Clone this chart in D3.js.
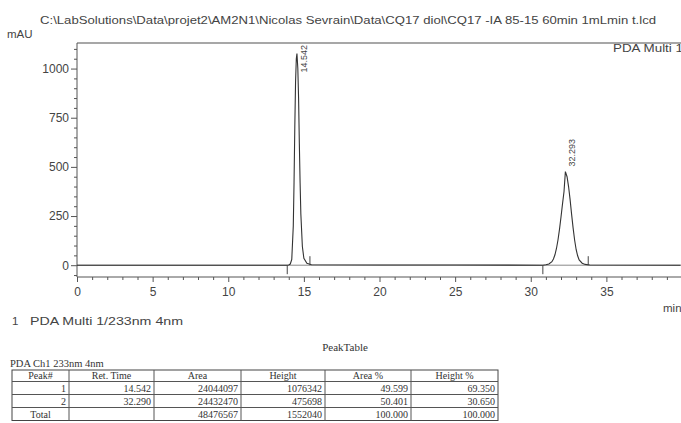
<!DOCTYPE html>
<html><head><meta charset="utf-8">
<script src="https://cdn.jsdelivr.net/npm/d3@7"></script>
<style>
body{margin:0;background:#fff;}
svg{display:block;}
text{font-family:"Liberation Sans",Arial,sans-serif;fill:#444;}
.serif{font-family:"Liberation Serif","Times New Roman",serif;fill:#333;}
</style></head>
<body>
<script>
// ---------- data ----------
const titleText = "C:\\LabSolutions\\Data\\projet2\\AM2N1\\Nicolas Sevrain\\Data\\CQ17 diol\\CQ17 -IA 85-15 60min 1mLmin t.lcd";
const traceTime = [0, 13.9, 14.0, 14.1, 14.2, 14.3, 14.35, 14.4, 14.45, 14.5, 14.542, 14.6, 14.65, 14.7, 14.75, 14.8, 14.9, 15.0, 15.2, 15.5, 20, 25, 30.8,
  31.0, 31.2, 31.4, 31.5, 31.6, 31.7, 31.8, 31.9, 32.0, 32.1, 32.2, 32.29, 32.4, 32.5, 32.6, 32.7, 32.8, 32.9, 33.0, 33.1, 33.2, 33.4, 33.6, 33.9, 39.9];
const traceValue = [0, 0, 1, 6, 30, 200, 420, 700, 930, 1050, 1076, 1000, 850, 620, 420, 260, 95, 35, 10, 2, 1, 1, 0,
  2, 6, 18, 32, 53, 85, 128, 182, 245, 312, 375, 476, 450, 400, 335, 260, 190, 128, 80, 48, 27, 10, 4, 1, 0];
const peakTimes = [14.542, 32.29];
const peakHeights = [1076, 476];
const peakLabels = ["14.542", "32.293"];
const markerTimes = [13.9, 15.4, 30.8, 33.8];
const markerDirs = [-1, 1, -1, 1];
const xMajorTicks = [0, 5, 10, 15, 20, 25, 30, 35];
const yMajorTicks = [0, 250, 500, 750, 1000];
const tableHeaders = ["Peak#", "Ret. Time", "Area", "Height", "Area %", "Height %"];
const tableRows = [
  ["1", "14.542", "24044097", "1076342", "49.599", "69.350"],
  ["2", "32.290", "24432470", "475698", "50.401", "30.650"],
  ["Total", "", "48476567", "1552040", "100.000", "100.000"]
];

// ---------- layout ----------
const W = 681, H = 423;
const svg = d3.select("body").append("svg").attr("width", W).attr("height", H);
const x = d3.scaleLinear().domain([0, 40]).range([77, 682]);
const y = d3.scaleLinear().domain([-60, 1130]).range([277, 43]);

svg.append("defs").append("clipPath").attr("id","clip")
  .append("rect").attr("x", 77).attr("y", 43).attr("width", W-77).attr("height", 234);

// title
svg.append("text").attr("x", 40).attr("y", 24).attr("font-size", 11.5)
  .attr("textLength", 616).attr("lengthAdjust","spacingAndGlyphs").text(titleText);
svg.append("text").attr("x", 7).attr("y", 38).attr("font-size", 11.5).text("mAU");
svg.append("text").attr("x", 613).attr("y", 52).attr("font-size", 11.5)
  .attr("textLength", 70).attr("lengthAdjust","spacingAndGlyphs").text("PDA Multi 1");

// top frame line
svg.append("line").attr("x1", 77).attr("x2", W).attr("y1", y(1130)).attr("y2", y(1130))
  .attr("stroke", "#8a8a8a").attr("stroke-width", 1.5);

// baseline
svg.append("line").attr("x1", x(0)).attr("x2", W).attr("y1", y(0)).attr("y2", y(0))
  .attr("stroke", "#888").attr("stroke-width", 1);

// y axis
const yMinor = d3.range(-50, 1130, 50).filter(v => !yMajorTicks.includes(v));
const yAxisG = svg.append("g").attr("transform", `translate(${x(0)},0)`);
yAxisG.call(d3.axisLeft(y).tickValues(yMajorTicks).tickSize(6).tickPadding(2).tickFormat(d3.format("d")));
const yMin = svg.append("g").attr("transform", `translate(${x(0)},0)`);
yMin.call(d3.axisLeft(y).tickValues(yMinor).tickSize(3).tickFormat(""));
yMin.select(".domain").remove();

// x axis
const xMinor = d3.range(1, 40, 1).filter(v => v % 5 !== 0);
const xAxisG = svg.append("g").attr("transform", `translate(0,${y(-60)})`);
xAxisG.call(d3.axisBottom(x).tickValues(xMajorTicks).tickSize(5).tickPadding(5).tickFormat(d3.format("d")));
const xMin = svg.append("g").attr("transform", `translate(0,${y(-60)})`);
xMin.call(d3.axisBottom(x).tickValues(xMinor).tickSize(3).tickFormat(""));
xMin.select(".domain").remove();
svg.selectAll(".domain").attr("stroke", "#555");
svg.selectAll(".tick line").attr("stroke", "#555");
svg.selectAll(".tick text").attr("font-family", "Liberation Sans, Arial, sans-serif").attr("font-size", 12).attr("fill", "#555");
xAxisG.select(".domain").attr("d", `M${x(0)},0H${W}`);
yAxisG.select(".domain").attr("d", `M0,${y(1130)}V${y(-60)}`);

svg.append("text").attr("x", 663).attr("y", 312).attr("font-size", 11.5).text("min");

// trace
const pts = traceTime.map((t, i) => [t, traceValue[i]]);
svg.append("path").attr("clip-path", "url(#clip)")
  .attr("d", d3.line().x(d => x(d[0])).y(d => y(d[1]))(pts))
  .attr("fill", "none").attr("stroke", "#333").attr("stroke-width", 1.1);

// integration markers
svg.selectAll(".mk").data(markerTimes).join("line")
  .attr("x1", d => x(d)).attr("x2", d => x(d))
  .attr("y1", y(0)).attr("y2", (d, i) => y(0) - markerDirs[i] * 9)
  .attr("stroke", "#444").attr("stroke-width", 1);

// peak labels (rotated)
const lblOffsets = [[10, 19], [10, -5]];
svg.selectAll(".pl").data(peakTimes).join("text")
  .attr("transform", (d, i) => `translate(${x(d) + lblOffsets[i][0]},${y(peakHeights[i]) + lblOffsets[i][1]}) rotate(-90)`)
  .attr("font-size", 9).attr("fill", "#333").text((d, i) => peakLabels[i]);

// legend line
svg.append("text").attr("x", 12).attr("y", 325).attr("font-size", 11.5).text("1");
svg.append("text").attr("x", 30).attr("y", 325).attr("font-size", 11.5)
  .attr("textLength", 153).attr("lengthAdjust","spacingAndGlyphs").text("PDA Multi 1/233nm 4nm");

// peak table
svg.append("text").attr("class","serif").attr("x", 345).attr("y", 351).attr("font-size", 11)
  .attr("text-anchor","middle").text("PeakTable");
svg.append("text").attr("class","serif").attr("x", 10).attr("y", 367).attr("font-size", 10.5).text("PDA Ch1 233nm 4nm");

const colEdges = [12, 69, 154, 241, 325, 411, 498];
const rowEdges = [370, 381.5, 394.5, 407.5, 420.5];
const tg = svg.append("g");
tg.append("rect").attr("x", colEdges[0]).attr("y", rowEdges[0])
  .attr("width", colEdges[6]-colEdges[0]).attr("height", rowEdges[4]-rowEdges[0])
  .attr("fill","none").attr("stroke","#444");
colEdges.slice(1,6).forEach(cx => tg.append("line").attr("x1",cx).attr("x2",cx).attr("y1",rowEdges[0]).attr("y2",rowEdges[4]).attr("stroke","#555"));
rowEdges.slice(1,4).forEach(ry => tg.append("line").attr("x1",colEdges[0]).attr("x2",colEdges[6]).attr("y1",ry).attr("y2",ry).attr("stroke","#555"));
tableHeaders.forEach((h, c) => {
  tg.append("text").attr("class","serif").attr("font-size", 10)
    .attr("x", (colEdges[c]+colEdges[c+1])/2).attr("y", rowEdges[1]-2.5)
    .attr("text-anchor","middle").text(h);
});
tableRows.forEach((row, r) => {
  row.forEach((v, c) => {
    const center = (r === 2 && c === 0);
    tg.append("text").attr("class","serif").attr("font-size", 10)
      .attr("x", center ? (colEdges[0]+colEdges[1])/2 : colEdges[c+1]-3)
      .attr("y", rowEdges[r+2]-2.5)
      .attr("text-anchor", center ? "middle" : "end").text(v);
  });
});
</script>
</body></html>
